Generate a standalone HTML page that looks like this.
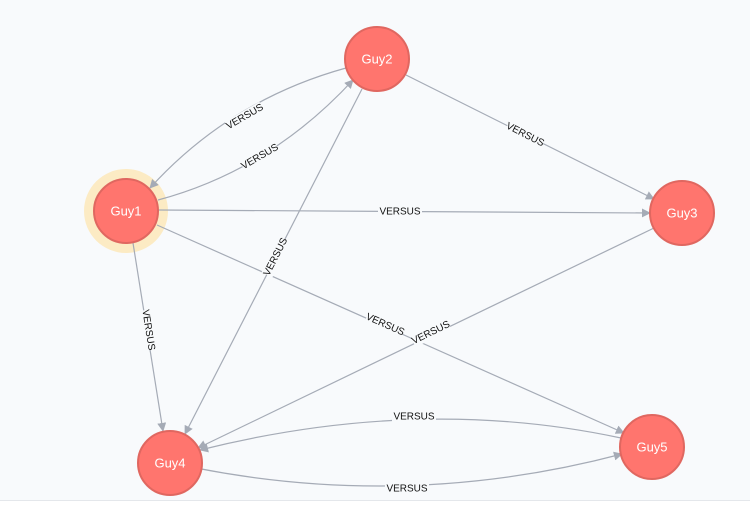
<!DOCTYPE html>
<html><head><style>
html,body{margin:0;padding:0;background:#f8fafc;}
svg{display:block;font-family:"Liberation Sans",sans-serif;}
.e{stroke:#a5abb6;stroke-width:1.2;fill:none;}
.l{font-size:10px;fill:#111;text-anchor:middle;dominant-baseline:central;}
.lb{fill:#f8fafc;}
.n{fill:#ff756e;stroke:#e06760;stroke-width:2;}
.t{font-size:13px;fill:#fff;text-anchor:middle;dominant-baseline:central;}
</style></head><body>
<svg width="750" height="505" viewBox="0 0 750 505">
<defs><marker id="a" viewBox="0 0 10 10" refX="9" refY="5" markerWidth="9" markerHeight="9" orient="auto" markerUnits="userSpaceOnUse"><path d="M0,0L10,5L0,10z" fill="#a5abb6"/></marker></defs>
<rect x="0" y="500" width="750" height="5" fill="#fff"/>
<line x1="0" y1="500.5" x2="750" y2="500.5" stroke="#e4e7eb"/>
<circle cx="126" cy="211" r="42" fill="#fcebc4"/>
<!-- edges -->
<path class="e" marker-end="url(#a)" d="M346,68 Q230,100 150,188"/>
<path class="e" marker-end="url(#a)" d="M158,200 Q270,170 353,80"/>
<path class="e" marker-end="url(#a)" d="M158,210 L650,213"/>
<path class="e" marker-end="url(#a)" d="M362,89 L185,434"/>
<path class="e" marker-end="url(#a)" d="M406,75 L654,199"/>
<path class="e" marker-end="url(#a)" d="M133,243 L163,431"/>
<path class="e" marker-end="url(#a)" d="M157,225 L624,433"/>
<path class="e" marker-end="url(#a)" d="M654,228 L198,448"/>
<path class="e" marker-end="url(#a)" d="M621,438 Q420,395 200,450"/>
<path class="e" marker-end="url(#a)" d="M196,468 Q410,510 622,454"/>
<!-- labels -->
<g transform="translate(245,117) rotate(-30)"><rect class="lb" x="-20" y="-6" width="40" height="12"/><text class="l">VERSUS</text></g>
<g transform="translate(260,157) rotate(-30)"><rect class="lb" x="-20" y="-6" width="40" height="12"/><text class="l">VERSUS</text></g>
<g transform="translate(400,212)"><rect class="lb" x="-22" y="-6" width="44" height="12"/><text class="l">VERSUS</text></g>
<g transform="translate(276,257) rotate(-63)"><rect class="lb" x="-20" y="-6" width="40" height="12"/><text class="l">VERSUS</text></g>
<g transform="translate(525,135) rotate(27)"><rect class="lb" x="-20" y="-6" width="40" height="12"/><text class="l">VERSUS</text></g>
<g transform="translate(148,330) rotate(81)"><rect class="lb" x="-20" y="-6" width="40" height="12"/><text class="l">VERSUS</text></g>
<g transform="translate(385,325) rotate(24)"><rect class="lb" x="-20" y="-6" width="40" height="12"/><text class="l">VERSUS</text></g>
<g transform="translate(431,333) rotate(-26)"><rect class="lb" x="-20" y="-6" width="40" height="12"/><text class="l">VERSUS</text></g>
<g transform="translate(414,417)"><rect class="lb" x="-22" y="-6" width="44" height="12"/><text class="l">VERSUS</text></g>
<g transform="translate(407,489)"><rect class="lb" x="-22" y="-6" width="44" height="12"/><text class="l">VERSUS</text></g>
<!-- nodes -->
<circle class="n" cx="126" cy="211" r="32"/><text class="t" x="126" y="211">Guy1</text>
<circle class="n" cx="377" cy="59" r="32"/><text class="t" x="377" y="59">Guy2</text>
<circle class="n" cx="682" cy="213" r="32"/><text class="t" x="682" y="213">Guy3</text>
<circle class="n" cx="170" cy="463" r="32"/><text class="t" x="170" y="463">Guy4</text>
<circle class="n" cx="652" cy="447" r="32"/><text class="t" x="652" y="447">Guy5</text>
</svg>
</body></html>
